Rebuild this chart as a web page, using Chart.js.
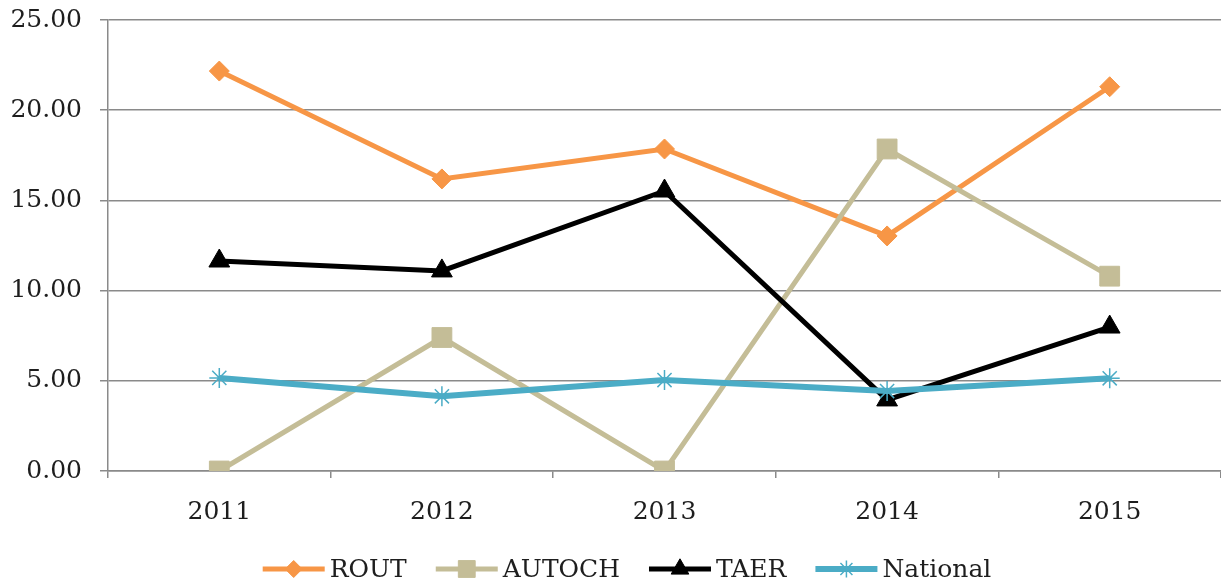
<!DOCTYPE html>
<html>
<head>
<meta charset="utf-8">
<script src="https://cdn.jsdelivr.net/npm/chart.js@4.4.1/dist/chart.umd.min.js"></script>
<style>
  html, body { margin: 0; padding: 0; background: #fff; overflow: hidden; }
  #wrap { width: 1221px; height: 585px; position: relative; }
  canvas { display: block; }
</style>
</head>
<body>
<div id="wrap"><canvas id="grafico"></canvas></div>
<script>
// datos
const anios = ['2011', '2012', '2013', '2014', '2015'];
const rout = [22.17, 16.19, 17.85, 13.03, 21.30];
const autoch = [0.00, 7.40, 0.00, 17.85, 10.80];
const taer = [11.64, 11.09, 15.52, 3.94, 7.98];
const national = [5.16, 4.14, 5.04, 4.43, 5.14];
const ejeY = { min: 0, max: 25, paso: 5 };

const fuente = '"DejaVu Serif", "Liberation Serif", serif';

// leyenda estilo Excel: línea con marcador y texto
const leyendaExcel = {
    id: 'leyendaExcel',
    afterDraw(chart) {
        const ctx = chart.ctx;
        const sets = chart.data.datasets;
        const largo = 62, sepTexto = 5, sepItem = 29, y = 569;
        ctx.save();
        ctx.font = '25px ' + fuente;
        const anchos = sets.map(ds => largo + sepTexto + ctx.measureText(ds.label).width);
        const total = anchos.reduce((a, b) => a + b, 0) + sepItem * (sets.length - 1);
        let x = 627 - total / 2;
        sets.forEach((ds, i) => {
            ctx.strokeStyle = ds.borderColor;
            ctx.lineWidth = ds.borderWidth;
            ctx.beginPath();
            ctx.moveTo(x, y);
            ctx.lineTo(x + largo, y);
            ctx.stroke();
            ctx.fillStyle = ds.pointBackgroundColor;
            ctx.strokeStyle = ds.pointBorderColor;
            ctx.lineWidth = ds.pointBorderWidth;
            Chart.helpers.drawPoint(ctx, {
                pointStyle: ds.pointStyle,
                radius: ds.pointRadius * 0.85,
                borderWidth: ds.pointBorderWidth,
                rotation: 0
            }, x + largo / 2, y);
            ctx.fillStyle = '#1e1e1e';
            ctx.textBaseline = 'middle';
            ctx.textAlign = 'left';
            ctx.fillText(ds.label, x + largo + sepTexto, y + 1);
            x += anchos[i] + sepItem;
        });
        ctx.restore();
    }
};

function serie(nombre, datos, color, estilo, radio, grosor, orden) {
    return {
        label: nombre,
        data: datos,
        borderColor: color,
        backgroundColor: color,
        borderWidth: grosor,
        pointStyle: estilo,
        pointRadius: radio,
        pointHoverRadius: radio,
        pointBackgroundColor: color,
        pointBorderColor: color,
        pointBorderWidth: estilo === 'star' ? 1.5 : 1,
        tension: 0,
        order: orden
    };
}

const ctx = document.getElementById('grafico').getContext('2d');
new Chart(ctx, {
    type: 'line',
    data: {
        labels: anios,
        datasets: [
            serie('ROUT', rout, '#F79646', 'rectRot', 10, 5, 3),
            serie('AUTOCH', autoch, '#C4BD97', 'rect', 14, 5, 2),
            serie('TAER', taer, '#000000', 'triangle', 12, 5, 1),
            serie('National', national, '#4BACC6', 'star', 10, 6, 0)
        ]
    },
    options: {
        responsive: true,
        maintainAspectRatio: false,
        animation: false,
        layout: {
            autoPadding: false,
            padding: { top: 20, right: 0, bottom: 0, left: 0 }
        },
        plugins: {
            legend: { display: false },
            tooltip: { enabled: false }
        },
        scales: {
            x: {
                offset: true,
                grid: {
                    offset: true,
                    drawOnChartArea: false,
                    drawTicks: true,
                    tickLength: 7,
                    color: '#8a8a8a',
                    lineWidth: 1.5
                },
                border: { display: true, color: '#8a8a8a', width: 1.5 },
                ticks: {
                    color: '#1e1e1e',
                    padding: 19,
                    font: { family: fuente, size: 25 }
                },
                afterFit: scale => {
                    scale.height = 114;
                    scale.paddingLeft = 0;
                    scale.paddingRight = 0;
                }
            },
            y: {
                min: ejeY.min,
                max: ejeY.max,
                grid: {
                    color: '#8a8a8a',
                    lineWidth: 1.5,
                    tickLength: 8
                },
                border: { display: true, color: '#8a8a8a', width: 1.5 },
                ticks: {
                    stepSize: ejeY.paso,
                    color: '#1e1e1e',
                    padding: 18,
                    font: { family: fuente, size: 25 },
                    callback: v => v.toFixed(2)
                },
                afterFit: scale => {
                    scale.width = 108;
                    scale.paddingTop = 0;
                    scale.paddingBottom = 0;
                }
            }
        }
    },
    plugins: [leyendaExcel]
});
</script>
</body>
</html>
